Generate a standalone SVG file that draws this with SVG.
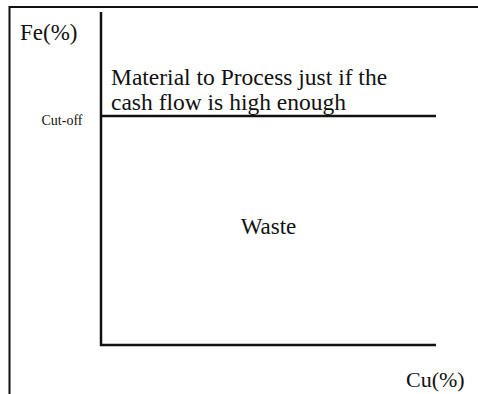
<svg xmlns="http://www.w3.org/2000/svg" width="478" height="394" viewBox="0 0 478 394">
<style>
.t{font-family:"Liberation Serif","Times New Roman",serif;fill:#111}
.ln{stroke:#111;stroke-width:2.5;fill:none}
.frame{stroke:#111;stroke-width:2;fill:none}
</style>
<rect width="478" height="394" fill="#fff"/>
<path class="frame" d="M9.5 395 V7 H478"/>
<g id="axes">
<path class="ln" d="M101 12 V345 H436"/>
</g>
<g id="cutoff">
<line class="ln" x1="101" y1="116" x2="436" y2="116"/>
<text class="t" x="41.5" y="125" font-size="14">Cut-off</text>
</g>
<g id="labels">
<text class="t" x="20" y="40" font-size="23">Fe(%)</text>
<text class="t" x="406" y="387" font-size="22">Cu(%)</text>
</g>
<g id="process">
<text class="t" x="111" y="85" font-size="23.5">Material to Process just if the</text>
<text class="t" x="111" y="110" font-size="23.5">cash flow is high enough</text>
</g>
<g id="waste">
<text class="t" x="268.5" y="234" font-size="23" text-anchor="middle">Waste</text>
</g>
</svg>
